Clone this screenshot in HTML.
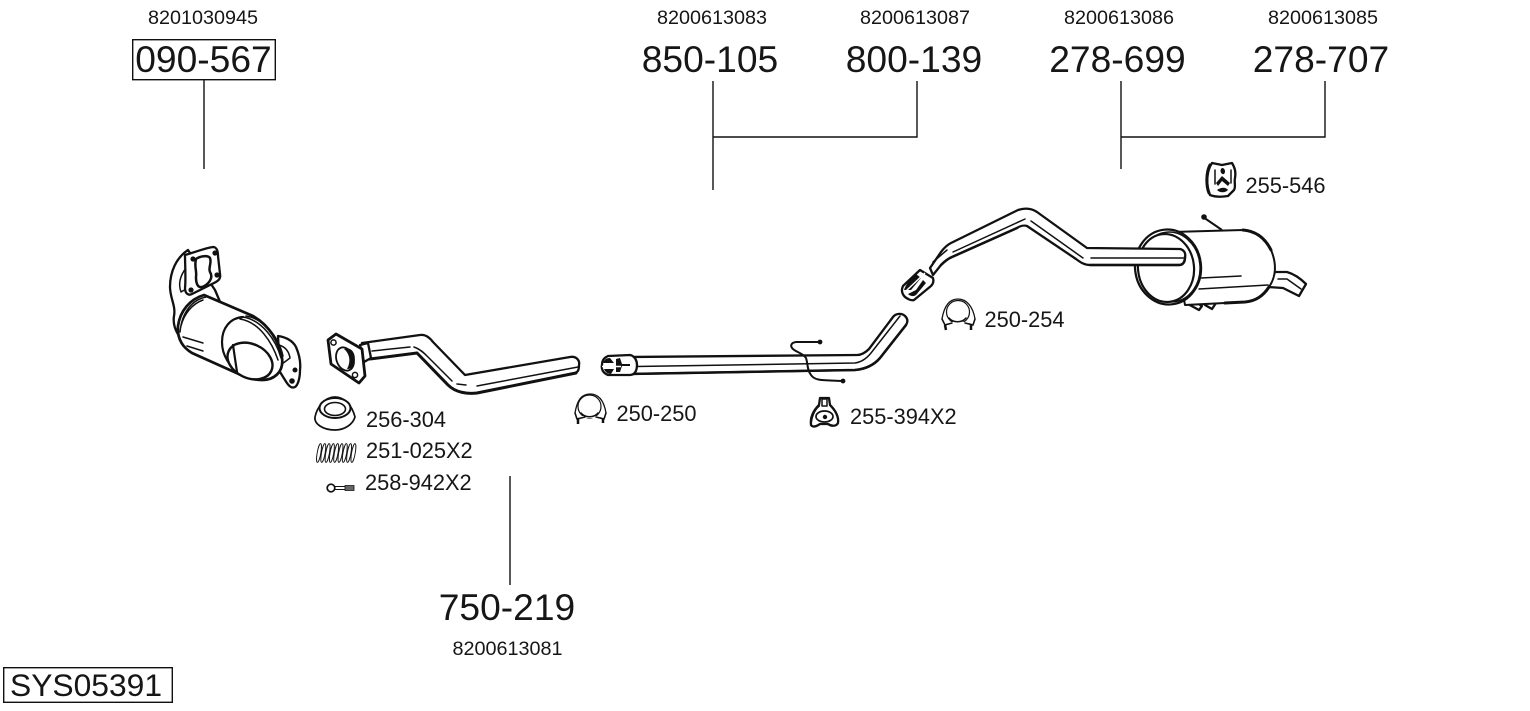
<!DOCTYPE html>
<html><head><meta charset="utf-8"><style>
html,body{margin:0;padding:0;background:#fff;width:1530px;height:711px;overflow:hidden}
svg{display:block}
text{font-family:"Liberation Sans",sans-serif;fill:#161616}
.b{font-size:37.200px}.s{font-size:19.800px}.m{font-size:21.800px}
.o{fill:#fff;stroke:#111;stroke-width:2.300;stroke-linejoin:round;stroke-linecap:round}
.t{fill:none;stroke:#111;stroke-width:1.500;stroke-linecap:round;stroke-linejoin:round}
.h{fill:none;stroke:#111;stroke-width:3;stroke-linecap:round;stroke-linejoin:round}
.k{fill:#111;stroke:none}
</style></head><body>
<svg width="1530" height="711" viewBox="0 0 1530 711" xmlns="http://www.w3.org/2000/svg">
<g stroke="#111" stroke-width="1.400" fill="none">
<rect x="132.700" y="39.700" width="142.600" height="40" fill="none"/>
<path d="M204 80V169M713 81V190M713 137H917V81M1121 81V169M1121 137H1325V81M510 476V585"/>
<rect x="3.700" y="667.700" width="168.600" height="34.600"/>
</g>
<text class="s" x="203" y="24" text-anchor="middle">8201030945</text>
<text class="s" x="712" y="24" text-anchor="middle">8200613083</text>
<text class="s" x="915" y="24" text-anchor="middle">8200613087</text>
<text class="s" x="1119" y="24" text-anchor="middle">8200613086</text>
<text class="s" x="1323" y="24" text-anchor="middle">8200613085</text>
<text class="s" x="507.500" y="655" text-anchor="middle">8200613081</text>
<text class="b" x="203.500" y="72" text-anchor="middle">090-567</text>
<text class="b" x="710" y="72" text-anchor="middle">850-105</text>
<text class="b" x="914" y="72" text-anchor="middle">800-139</text>
<text class="b" x="1117.500" y="72" text-anchor="middle">278-699</text>
<text class="b" x="1321" y="72" text-anchor="middle">278-707</text>
<text class="b" x="507" y="620" text-anchor="middle">750-219</text>
<text x="10" y="696" style="font-size:31.800px">SYS05391</text>
<text class="m" x="366" y="427">256-304</text>
<text class="m" x="366" y="458">251-025X2</text>
<text class="m" x="365" y="490">258-942X2</text>
<text class="m" x="616.500" y="421">250-250</text>
<text class="m" x="850" y="424">255-394X2</text>
<text class="m" x="984.500" y="327">250-254</text>
<text class="m" x="1245.500" y="193">255-546</text>

<!-- catalyst -->
<g>
<path class="o" d="M188 250C176 258 170 272 170 287C170 298 176 306 174 316C172 328 180 340 190 348L212 360L232 330L215 290Z"/>
<path class="t" d="M186 268C180 276 178 284 181 292C186 288 190 290 194 292"/>
<path class="o" d="M278 336C286 337 293 341 296 347C299 354 301 362 300 370C300 378 298 385 295 387C291 389 288 385 285 380L280 372Z"/>
<circle class="k" cx="295" cy="370" r="2.500"/><circle class="k" cx="292" cy="381" r="2.800"/>
<path class="t" d="M279 345C286 347 289 352 290 358L282 364"/>
<path class="o" style="stroke-width:2.700" d="M204 295L253 316C270 326 279 342 282 358C284 372 274 380 262 380C254 380 247 378 241 375L192 353C182 347 177 338 178 326C180 311 190 299 204 295Z"/>
<path class="t" d="M180 332C182 312 192 300 206 297M183 337L203 343M187 346L203 351M181 326C184 314 192 304 203 300"/>
<path class="t" d="M243 317C262 320 276 340 281 358M246 316C265 319 279 338 283 356M240 319C259 322 272 342 278 360"/>
<path class="h" style="stroke-width:2.200" d="M243 317C230 318 222 328 222 342C222 356 230 367 241 374"/>
<ellipse class="o" cx="250" cy="361" rx="23.500" ry="17" transform="rotate(25 250 361)" style="stroke-width:2.400"/>
<path class="t" style="stroke-width:2.200" d="M233 345L237 372"/>
<path class="o" d="M185 255C196 252 205 248 213 247C216 247 218 250 218 256L220 274C221 279 218 281 214 283L192 294C188 296 185 293 185 288C186 280 185 264 185 255Z"/>
<path class="o" style="stroke-width:2.500" d="M196 259C200 256 208 255 210 258C212 263 208 268 210 272C214 278 208 285 202 287C197 288 196 282 196 277C197 271 194 266 196 259Z"/>
<circle class="k" cx="193" cy="259" r="2.600"/><circle class="k" cx="215" cy="253" r="2.600"/><circle class="k" cx="217" cy="275" r="2.600"/><circle class="k" cx="191" cy="290" r="2.600"/>
</g>

<!-- front pipe -->
<g>
<path class="o" d="M362 343L420 335C426 334 430 338 433 342L465 375L570 357C576 356 580 360 579 365C579 370 578 372 575 373L477 393C468 394 456 393 448 385L417 353L370 359Z"/>
<path class="h" style="stroke-width:3" d="M370 359L417 353L448 385C456 393 468 394 477 393L576 373"/>
<path class="t" d="M372 351L410 347M414 347C420 349 424 353 427 356L452 381M457 384L466 385M477 386L578 367"/>
<path class="o" d="M360 345L368 343L371 358L364 362Z"/>
<path class="o" style="stroke-width:2.800" d="M328 340L336 334L362 349L365 376L359 383L331 364Z"/>
<ellipse cx="345" cy="359" rx="8.500" ry="12" transform="rotate(-20 345 359)" fill="#fff" stroke="#111" stroke-width="1.800"/>
<path class="k" d="M344 349C352 346 357 355 354 364C353 368 350 369 347 369C351 362 350 354 344 349Z"/>
<circle cx="333.500" cy="342.500" r="2.600" fill="#fff" stroke="#111" stroke-width="1.500"/><circle cx="355" cy="375" r="2.600" fill="#fff" stroke="#111" stroke-width="1.500"/>
</g>

<!-- mid pipe -->
<g>
<path class="o" d="M630 357L857 355C862 355 866 352 869 349L893 317C896 313 902 313 905 316C908 319 908 322 906 325L880 358C874 365 866 369 855 370L630 374Z"/>
<path class="h" style="stroke-width:2.500" d="M630 374L855 370C866 369 874 365 880 358L906 325"/>
<path class="t" d="M636 366.500L855 363C862 362 867 358 871 353L900 316"/>
<path class="o" d="M608 356L630 355C635 356 637 361 637 365C637 370 635 375 630 375L608 375C603 373 601 369 602 365C602 360 604 358 608 356Z"/>
<path class="k" d="M610 358L614 363L603 363C604 360 606 358 610 358ZM604 369L614 369L611 374C608 374 605 372 604 369ZM616 359L620 358L622 364L630 364L630 366L622 366L620 372L616 372Z"/>
<path d="M602 366.500H621" stroke="#fff" stroke-width="1.500"/>
<path fill="none" stroke="#111" stroke-width="2" stroke-linecap="round" d="M820 342L797 342C792 342 790 345 792 348C795 352 803 353 806 358C808 364 807 370 811 375C815 381 822 380 843 381"/>
<circle class="k" cx="820" cy="342" r="2.400"/><circle class="k" cx="843" cy="381" r="2.400"/>
</g>

<!-- rear muffler body -->
<g>
<path class="o" d="M1275 272L1287 272C1294 274 1301 279 1306 284L1299 296L1283 288L1268 287Z"/>
<path class="t" d="M1278 279L1287 279L1301 289"/>
<path class="o" d="M1187 297L1202 306L1199 310L1186 303ZM1203 297L1216 303L1212 309L1205 305Z"/>
<path d="M1203 217L1222 230" stroke="#111" stroke-width="2"/><circle class="k" cx="1204" cy="217" r="2.800"/>
<path class="o" style="stroke-width:2" d="M1172 232L1243 230C1256 231 1265 238 1271 250C1277 264 1276 277 1269 287C1263 296 1256 301 1245 302L1185 305Z"/>
<path class="h" style="stroke-width:3" d="M1243 230C1256 231 1265 238 1271 250M1269 287C1263 296 1256 301 1245 302L1225 303"/>
<path class="t" d="M1201 278L1241 276M1199 289L1268 285"/>
<ellipse cx="1168" cy="267" rx="33" ry="37.500" transform="rotate(-6 1168 267)" fill="#fff" stroke="#111" stroke-width="2.200"/>
<ellipse cx="1170" cy="267" rx="30" ry="35" transform="rotate(-6 1170 267)" fill="none" stroke="#111" stroke-width="1.500"/>
<ellipse cx="1166" cy="268" rx="28" ry="34" transform="rotate(-6 1166 268)" fill="#fff" stroke="#111" stroke-width="2.200"/>
</g>

<!-- rear pipe -->
<g>
<path class="o" d="M930 268L941 252C944 248 947 245 951 243L1018 210C1024 208 1031 208 1037 212L1087 248L1180 249C1184 250 1186 253 1185 257C1185 262 1183 265 1179 265L1090 265C1084 265 1080 262 1076 259L1027 226C1024 225 1020 226 1017 228L952 257C947 259 944 262 941 265L933 275Z"/>
<path class="h" style="stroke-width:2.500" d="M1090 265L1179 265C1183 265 1185 262 1185 257M941 265C944 262 947 259 952 257L1017 228"/>
<path class="t" d="M933 262L947 250M953 252L1025 219M1031 221L1083 258M1091 258L1183 258"/>
<path class="o" d="M920 270L933 278C934 281 933 284 931 286L914 300C911 301 908 299 905 297C902 294 901 290 903 286Z"/>
<path class="k" d="M916 274L921 278L911 290L904 290C906 284 911 278 916 274ZM923 280L926 283L916 295C913 297 910 296 908 294L916 290Z"/>
<path d="M906 291L925 273" stroke="#fff" stroke-width="1.500"/>
</g>

<!-- gasket -->
<g>
<path class="o" d="M335 397C344 397 352 405 355 417C353 424 345 430 335 430C323 430 314 424 315 417C317 407 325 397 335 397Z" style="stroke-width:1.700"/>
<ellipse cx="335" cy="408" rx="15.500" ry="10" class="o" style="stroke-width:2"/>
<ellipse cx="335" cy="409" rx="10.500" ry="6.500" class="o" style="stroke-width:1.600"/>
</g>
<!-- spring -->
<g fill="none" stroke="#111" stroke-width=".9">
<ellipse cx="319" cy="453" rx="1.800" ry="9.500" transform="rotate(10 319 453)"/><ellipse cx="323.300" cy="453" rx="1.800" ry="9.500" transform="rotate(10 323.300 453)"/><ellipse cx="327.600" cy="453" rx="1.800" ry="9.500" transform="rotate(10 327.600 453)"/><ellipse cx="331.900" cy="453" rx="1.800" ry="9.500" transform="rotate(10 331.900 453)"/><ellipse cx="336.200" cy="453" rx="1.800" ry="9.500" transform="rotate(10 336.200 453)"/><ellipse cx="340.500" cy="453" rx="1.800" ry="9.500" transform="rotate(10 340.500 453)"/><ellipse cx="344.800" cy="453" rx="1.800" ry="9.500" transform="rotate(10 344.800 453)"/><ellipse cx="349.100" cy="453" rx="1.800" ry="9.500" transform="rotate(10 349.100 453)"/><ellipse cx="353.400" cy="453" rx="1.800" ry="9.500" transform="rotate(10 353.400 453)"/>
</g>
<!-- bolt -->
<g>
<circle cx="331" cy="488" r="3.800" fill="#fff" stroke="#111" stroke-width="1.700"/>
<path d="M335 486.500H345M335 489.500H345" stroke="#111" stroke-width="1"/>
<path d="M345 485.500H354V490.500H345Z" fill="#666" stroke="#111" stroke-width=".8"/>
</g>
<!-- clamps -->
<g>
<path class="o" style="stroke-width:1.300" d="M575 413C577 401 581 394 590 394C599 394 604 401 606 413L604 419L597 417H584L577 419Z"/>
<circle cx="589.500" cy="406.500" r="11.500" fill="#fff" stroke="#111" stroke-width="1.200"/>
<path d="M579 417H600" stroke="#fff" stroke-width="2"/>
<path d="M578 418L578 424M603 418L603 423" stroke="#111" stroke-width="2.500"/>
<path class="t" d="M575 413L577 419L585 417M606 413L604 419L596 417M581 413C585 418 594 418 598 413"/>
</g>
<g>
<path class="o" style="stroke-width:1.300" d="M942 319C944 307 949 299 958 299C967 299 973 307 975 319L973 325L966 323H951L945 325Z"/>
<circle cx="958" cy="312" r="11.500" fill="#fff" stroke="#111" stroke-width="1.200"/>
<path d="M947 323H968" stroke="#fff" stroke-width="2"/>
<path d="M945 325L946 330M971 325L971 330" stroke="#111" stroke-width="2.500"/>
<path class="t" d="M942 319L945 325L952 323M975 319L973 325L965 323M949 318C953 323 962 323 966 318"/>
</g>
<!-- hanger 255-394 -->
<g>
<path class="o" d="M820 398L829 398L830 405C835 410 839 416 838 423C836 427 831 426 828 424L820 424C817 426 813 428 811 425C810 417 814 410 819 405Z"/>
<path class="o" style="stroke-width:1.500" d="M822 399H827V406H822Z"/>
<ellipse cx="824.500" cy="416.500" rx="8.500" ry="5.500" class="o" style="stroke-width:1.700"/>
<circle class="k" cx="825" cy="417" r="2.200"/>
<path class="h" style="stroke-width:2" d="M819 406C814 410 811 418 811 425"/>
</g>
<!-- hanger 255-546 -->
<g>
<path class="o" d="M1212 163L1222 165L1232 163C1235 168 1236 172 1235 178C1234 182 1236 187 1234 190L1228 196C1222 197 1215 197 1210 195C1206 186 1206 172 1212 163Z"/>
<path class="h" style="stroke-width:3" d="M1210 165C1206 172 1206 186 1209 193"/>
<path class="k" d="M1222 168C1225 168 1226 172 1224 174C1221 175 1219 170 1222 168ZM1217 190C1221 187 1226 187 1228 190C1225 193 1220 193 1217 190ZM1216 183L1222 176L1230 183L1228 186L1222 181L1218 186Z"/>
<path class="t" d="M1215 170L1215 184M1231 170L1231 183"/>
</g>
</svg>
</body></html>
